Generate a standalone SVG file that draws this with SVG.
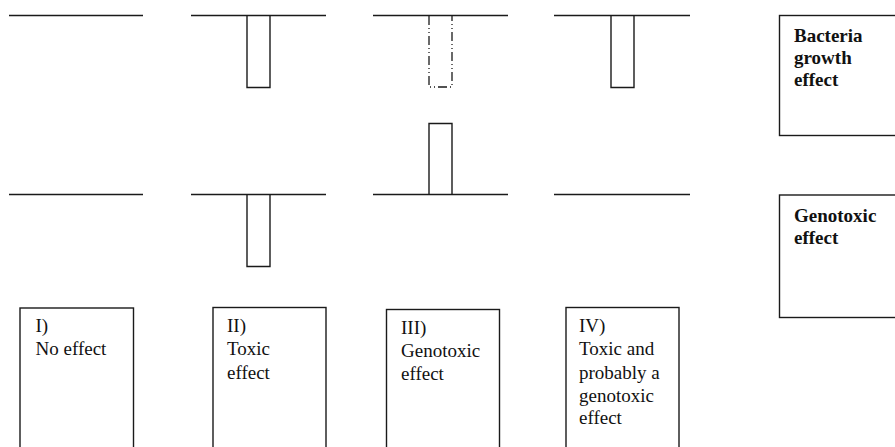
<svg xmlns="http://www.w3.org/2000/svg" width="895" height="447" viewBox="0 0 895 447">
<style>
.ln{stroke:#1a1a1a;stroke-width:1.4;fill:none}
.bx{stroke:#1a1a1a;stroke-width:1.4;fill:#fff}
.dd{stroke:#1a1a1a;stroke-width:1.3;fill:none;stroke-dasharray:9 3 1 3 1 3}
.t{font-family:"Liberation Serif","Times New Roman",serif;font-size:19px;fill:#111}
.b{font-family:"Liberation Serif","Times New Roman",serif;font-size:19px;font-weight:bold;fill:#111}
</style>
<rect width="895" height="447" fill="#fff"/>
<g id="bands">
<g id="top-I"><line class="ln" x1="9" y1="15.5" x2="143" y2="15.5"/></g>
<g id="top-II"><line class="ln" x1="191" y1="15.5" x2="326" y2="15.5"/><path class="ln" d="M247,15.5 V87.5 H270 V15.5"/></g>
<g id="top-III"><line class="ln" x1="373" y1="15.5" x2="508" y2="15.5"/><path class="dd" d="M429,16 V87 H452 V16"/></g>
<g id="top-IV"><line class="ln" x1="554" y1="15.5" x2="690" y2="15.5"/><path class="ln" d="M611,15.5 V87.5 H634 V15.5"/></g>
<g id="bot-I"><line class="ln" x1="9" y1="194.5" x2="143" y2="194.5"/></g>
<g id="bot-II"><line class="ln" x1="191" y1="194.5" x2="326" y2="194.5"/><path class="ln" d="M247,194.5 V266.5 H270 V194.5"/></g>
<g id="bot-III"><line class="ln" x1="373" y1="194.5" x2="508" y2="194.5"/><path class="ln" d="M429,194.5 V123.5 H452 V194.5"/></g>
<g id="bot-IV"><line class="ln" x1="554" y1="194.5" x2="690" y2="194.5"/></g>
</g>
<g id="legend-bacteria">
<rect class="bx" x="779.5" y="15.5" width="130" height="120"/>
<text class="b" x="794" y="42">Bacteria</text>
<text class="b" x="794" y="64">growth</text>
<text class="b" x="794" y="86">effect</text>
</g>
<g id="legend-genotoxic">
<rect class="bx" x="779.5" y="195" width="130" height="122.5"/>
<text class="b" x="794" y="222">Genotoxic</text>
<text class="b" x="794" y="244">effect</text>
</g>
<g id="box-I">
<rect class="bx" x="20" y="308" width="113.5" height="150"/>
<text class="t" x="35.5" y="332">I)</text>
<text class="t" x="35.5" y="355">No effect</text>
</g>
<g id="box-II">
<rect class="bx" x="213" y="307.5" width="113" height="150"/>
<text class="t" x="227" y="332">II)</text>
<text class="t" x="227" y="355">Toxic</text>
<text class="t" x="227" y="378.5">effect</text>
</g>
<g id="box-III">
<rect class="bx" x="386.5" y="309.5" width="113" height="150"/>
<text class="t" x="401" y="333.5">III)</text>
<text class="t" x="401" y="357">Genotoxic</text>
<text class="t" x="401" y="380">effect</text>
</g>
<g id="box-IV">
<rect class="bx" x="566" y="307.5" width="113" height="150"/>
<text class="t" x="579" y="332">IV)</text>
<text class="t" x="579" y="355">Toxic and</text>
<text class="t" x="579" y="378.5">probably a</text>
<text class="t" x="579" y="401.5">genotoxic</text>
<text class="t" x="579" y="424">effect</text>
</g>
</svg>
